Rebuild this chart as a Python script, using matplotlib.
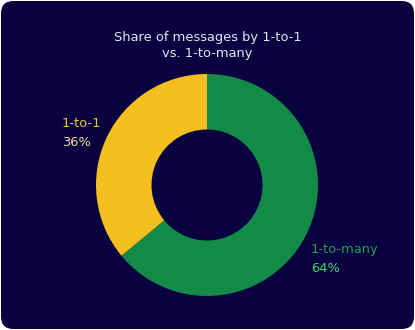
import matplotlib
matplotlib.use("Agg")
import matplotlib.pyplot as plt
from matplotlib.patches import FancyBboxPatch

categories = ["1-to-many", "1-to-1"]
values = [64, 36]
colors = ["#138a46", "#f5bf1f"]
label_colors = ["#1f9e4f", "#e9c23c"]
pct_colors = ["#35d66a", "#f2dc94"]

W, H = 415, 330
fig = plt.figure(figsize=(W/100, H/100), dpi=100)
fig.patch.set_facecolor("white")
bg = FancyBboxPatch((1/W, 1/H), (W-2)/W, (H-2)/H,
                    boxstyle="round,pad=0,rounding_size=0.03",
                    transform=fig.transFigure, facecolor="#0a0141",
                    edgecolor="none", mutation_aspect=W/H, zorder=-10)
fig.patches.append(bg)

cx, cy, r = 207, 185, 111
ax = fig.add_axes([(cx-r)/W, (H-cy-r)/H, 2*r/W, 2*r/H])
ax.set_facecolor("none")
ax.set_zorder(5)
ax.pie(values, colors=colors, startangle=90, counterclock=False,
       wedgeprops=dict(width=0.5, edgecolor="none"), radius=1)
ax.set_xlim(-1, 1)
ax.set_ylim(-1, 1)
ax.set_aspect("equal")
ax.axis("off")

fs = 9.4
fig.text(0.5, 1-38/H, "Share of messages by 1-to-1", ha="center", va="center",
         color="#e6e6f0", fontsize=fs)
fig.text(0.5, 1-54/H, "vs. 1-to-many", ha="center", va="center",
         color="#e6e6f0", fontsize=fs)

pos = {"1-to-many": (311, 249), "1-to-1": (62, 123)}
for cat, v, lc, pc in zip(categories, values, label_colors, pct_colors):
    x, y = pos[cat]
    fig.text(x/W, 1-y/H, cat, ha="left", va="center", color=lc, fontsize=fs)
    fig.text(x/W, 1-(y+19)/H, f"{v}%", ha="left", va="center", color=pc, fontsize=fs)

fig.savefig("out.png", dpi=100, facecolor=fig.get_facecolor())
